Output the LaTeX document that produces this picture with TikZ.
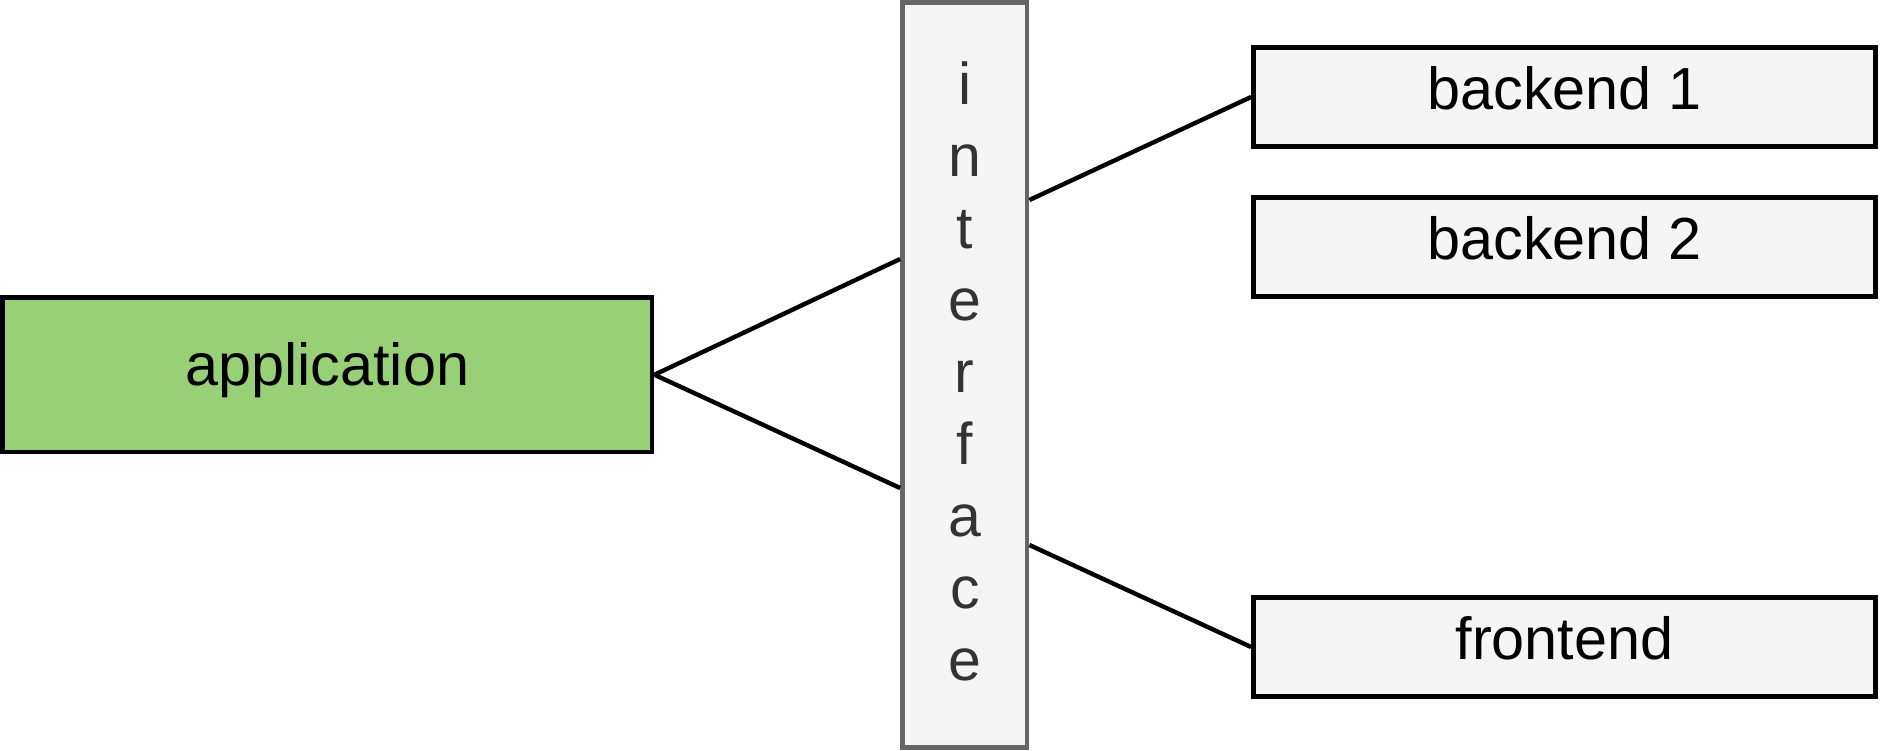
\documentclass[tikz,border=0pt]{standalone}
\usepackage{fontspec}
\setmainfont{Liberation Sans}
\usetikzlibrary{positioning}
\definecolor{appgreen}{HTML}{97D077}
\definecolor{boxgray}{HTML}{F5F5F5}
\definecolor{ifacestroke}{HTML}{666666}
\definecolor{ifacetext}{HTML}{333333}
\tikzset{
  box/.style={draw=black, line width=2.4pt, fill=boxgray, rectangle, inner sep=0pt,
    font=\fontsize{29.7}{35}\selectfont, text=black, text height=21.5pt, text depth=9pt},
  appbox/.style={box, fill=appgreen, text depth=10.5pt},
  ifacebox/.style={draw=ifacestroke, line width=2.4pt, fill=boxgray, rectangle, inner sep=0pt},
  ifacelabel/.style={inner sep=0pt, align=center, text=ifacetext,
    font=\fontsize{29.5}{36}\selectfont},
  conn/.style={draw=black, line width=2.2pt}
}
\begin{document}
\begin{tikzpicture}[x=0.5pt, y=-0.5pt]
\useasboundingbox (0,0) rectangle (1880,750);
\node[appbox, minimum width=324.75pt, minimum height=77.25pt] (app) at (327.25,374.75) {application};
\node[ifacebox, minimum width=62.25pt, minimum height=372.5pt] (iface) at (964.75,375) {};
\node[ifacelabel] (ifacetxt) at ([yshift=1.8pt]iface.center) {i\\n\\t\\e\\r\\f\\a\\c\\e};
\node[box, minimum width=311pt, minimum height=49.5pt] (b1) at (1564.5,97) {backend 1};
\node[box, minimum width=311pt, minimum height=49.5pt] (b2) at (1564.5,247) {backend 2};
\node[box, minimum width=311pt, minimum height=49.5pt] (fe) at (1564.5,647) {frontend};
\coordinate (iwa) at (iface.west |- 0,259);
\coordinate (iwb) at (iface.west |- 0,488);
\coordinate (iea) at (iface.east |- 0,200);
\coordinate (ieb) at (iface.east |- 0,545);
\draw[conn] (app.east) -- (iwa);
\draw[conn] (app.east) -- (iwb);
\draw[conn] (iea) -- (b1.west);
\draw[conn] (ieb) -- (fe.west);
\end{tikzpicture}
\end{document}
